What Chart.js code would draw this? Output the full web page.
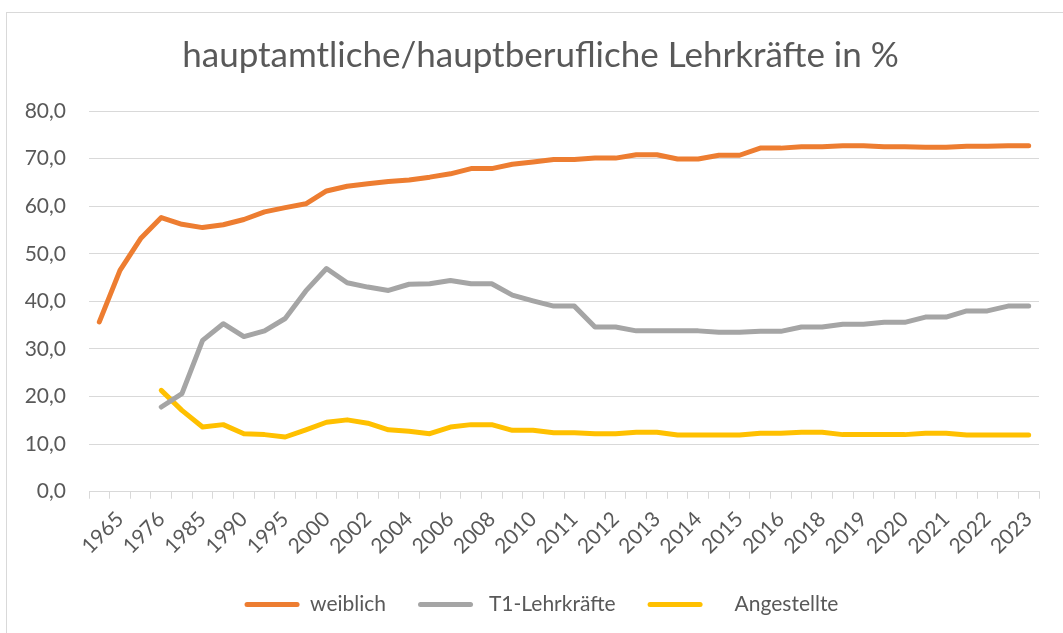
<!DOCTYPE html>
<html>
<head>
<meta charset="utf-8">
<script src="https://cdn.jsdelivr.net/npm/chart.js@4/dist/chart.umd.min.js"></script>
<style>
  html, body { margin: 0; padding: 0; background: #fff; overflow: hidden; }
  #frame { position: absolute; left: 6px; top: 12px; width: 1100px; height: 700px; border: 1px solid #d9d9d9; }
  #chart { position: absolute; left: 0; top: 0; }
</style>
</head>
<body>
<div id="frame"></div>
<canvas id="chart" width="1063" height="633"></canvas>
<script>
// ====================== Lehrkräfte chart ======================

// categories (only every second one gets a visible label)
const years = [
  '1960', '1965', '1970', '1976', '1980', '1985', '1987', '1990', '1992', '1995',
  '1998', '2000', '2001', '2002', '2003', '2004', '2005', '2006', '2007', '2008',
  '2009', '2010', '2010/11', '2011', '2011/12', '2012', '2012/13', '2013', '2013/14', '2014',
  '2014/15', '2015', '2015/16', '2016', '2017/18', '2018', '2018/19', '2019', '2019/20', '2020',
  '2020/21', '2021', '2021/22', '2022', '2022/23', '2023'
];

const weiblich = [
  35.7, 46.5, 53.2, 57.6, 56.2, 55.5, 56.1, 57.2, 58.8, 59.7,
  60.5, 63.2, 64.2, 64.7, 65.2, 65.5, 66.1, 66.8, 67.9, 67.9,
  68.8, 69.3, 69.8, 69.8, 70.1, 70.1, 70.8, 70.8, 69.9, 69.9,
  70.7, 70.7, 72.2, 72.2, 72.5, 72.5, 72.7, 72.7, 72.5, 72.5,
  72.4, 72.4, 72.6, 72.6, 72.7, 72.7
];

const t1Lehrkraefte = [
  null, null, null, 17.8, 20.6, 31.8, 35.3, 32.6, 33.8, 36.4,
  42.2, 46.9, 43.9, 43.0, 42.3, 43.6, 43.7, 44.4, 43.7, 43.7,
  41.3, 40.1, 39.0, 39.0, 34.6, 34.6, 33.8, 33.8, 33.8, 33.8,
  33.5, 33.5, 33.7, 33.7, 34.6, 34.6, 35.2, 35.2, 35.6, 35.6,
  36.7, 36.7, 38.0, 38.0, 39.0, 39.0
];

const angestellte = [
  null, null, null, 21.3, 17.1, 13.6, 14.1, 12.2, 12.0, 11.5,
  13.0, 14.6, 15.1, 14.4, 13.0, 12.7, 12.2, 13.6, 14.1, 14.1,
  12.9, 12.9, 12.4, 12.4, 12.2, 12.2, 12.5, 12.5, 11.9, 11.9,
  11.9, 11.9, 12.3, 12.3, 12.5, 12.5, 12.0, 12.0, 12.0, 12.0,
  12.3, 12.3, 11.9, 11.9, 11.9, 11.9
];

const textColor = '#595959';
const gridColor = '#d9d9d9';
const fontFamily = 'Lato, "Open Sans", sans-serif';

// Excel centres title + legend on the whole chart box, nudge them a bit
const nudgeBoxes = {
  id: 'nudgeBoxes',
  afterLayout(chart) {
    chart.titleBlock.left += 9; chart.titleBlock.right += 9;
    chart.legend.left += 10; chart.legend.right += 10;
    chart.legend.top -= 5; chart.legend.bottom -= 5;
  }
};

new Chart(document.getElementById('chart'), {
  type: 'line',
  data: {
    labels: years,
    datasets: [
      { label: 'weiblich', data: weiblich, borderColor: '#ED7D31', backgroundColor: '#ED7D31' },
      { label: ' T1-Lehrkräfte', data: t1Lehrkraefte, borderColor: '#A5A5A5', backgroundColor: '#A5A5A5' },
      { label: '    Angestellte', data: angestellte, borderColor: '#FFC000', backgroundColor: '#FFC000' }
    ]
  },
  options: {
    responsive: false,
    animation: false,
    elements: {
      line: { borderWidth: 5, borderCapStyle: 'round', borderJoinStyle: 'round', tension: 0 },
      point: { radius: 0 }
    },
    layout: { padding: { left: 24, right: 24, top: 20, bottom: 3 } },
    plugins: {
      title: {
        display: true,
        text: 'hauptamtliche/hauptberufliche Lehrkräfte in %',
        color: textColor,
        font: { family: fontFamily, size: 35, weight: 'normal' },
        padding: { top: 15, bottom: 34 }
      },
      legend: {
        position: 'bottom',
        labels: {
          boxWidth: 55,
          boxHeight: 5,
          useBorderRadius: true,
          borderRadius: 2.5,
          padding: 32,
          color: textColor,
          font: { family: fontFamily, size: 21 },
          generateLabels: chart => Chart.defaults.plugins.legend.labels.generateLabels(chart)
            .map(l => ({ ...l, lineWidth: 0 }))
        }
      },
      tooltip: { enabled: false }
    },
    scales: {
      x: {
        offset: true,
        grid: { offset: true, drawOnChartArea: false, drawTicks: true, tickLength: 7, color: gridColor },
        border: { color: gridColor },
        ticks: {
          autoSkip: false,
          minRotation: 45,
          maxRotation: 45,
          padding: 8,
          color: textColor,
          font: { family: fontFamily, size: 21 },
          callback: function (v, i) { return i % 2 === 1 ? this.getLabelForValue(v) : ''; }
        }
      },
      y: {
        min: 0,
        max: 80,
        grid: { color: gridColor, drawTicks: false },
        border: { display: false },
        ticks: {
          stepSize: 10,
          padding: 23,
          color: textColor,
          font: { family: fontFamily, size: 21 },
          callback: v => v.toFixed(1).replace('.', ',')
        },
        afterFit: s => { s.width = 65; }
      }
    }
  },
  plugins: [nudgeBoxes]
});
</script>
</body>
</html>
